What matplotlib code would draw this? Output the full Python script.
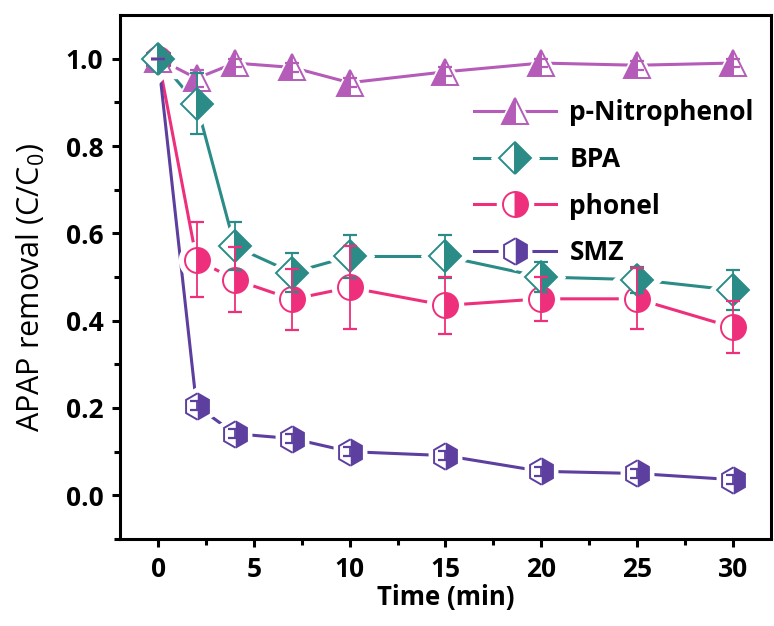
import numpy as np
import matplotlib.pyplot as plt
from matplotlib.legend_handler import HandlerTuple

plt.rcParams['font.family'] = ['Open Sans', 'DejaVu Sans']
plt.rcParams['mathtext.fontset'] = 'custom'
plt.rcParams['mathtext.rm'] = 'Open Sans'
plt.rcParams['mathtext.bf'] = 'Open Sans:bold'

# Data
time = [0, 2, 4, 7, 10, 15, 20, 25, 30]

nitro = [1.0, 0.955, 0.99, 0.98, 0.945, 0.97, 0.99, 0.985, 0.99]
nitro_err = [0.0, 0.02, 0.01, 0.01, 0.01, 0.01, 0.01, 0.01, 0.01]

bpa = [1.0, 0.897, 0.57, 0.51, 0.547, 0.547, 0.50, 0.494, 0.47]
bpa_err = [0.0, 0.07, 0.055, 0.045, 0.05, 0.05, 0.035, 0.03, 0.045]

phonel = [1.0, 0.54, 0.494, 0.449, 0.476, 0.435, 0.45, 0.45, 0.385]
phonel_err = [0.0, 0.085, 0.075, 0.07, 0.095, 0.065, 0.05, 0.07, 0.06]

smz = [1.0, 0.205, 0.141, 0.13, 0.10, 0.091, 0.055, 0.05, 0.036]
smz_err = [0.0, 0.01, 0.01, 0.01, 0.01, 0.01, 0.01, 0.01, 0.01]

labels = ["p-Nitrophenol", "BPA", "phonel", "SMZ"]
colors = ["#B45CB8", "#2A8B87", "#EE2F7B", "#5C3F9E"]
markers = ["^", "D", "o", "h"]
sizes = [19, 16, 18, 19]
fills = ["left", "right", "right", "right"]
# marker stacking order: BPA on top, like the original
mz = [4.3, 4.4, 4.2, 4.1]

fig = plt.figure(figsize=(7.74, 6.26), dpi=100)
ax = fig.add_axes([0.155, 0.139, 0.841, 0.837])

series = [(nitro, nitro_err), (bpa, bpa_err), (phonel, phonel_err), (smz, smz_err)]
handles = []
for i, (y, e) in enumerate(series):
    c = colors[i]
    ax.plot(time, y, color=c, lw=2.2, zorder=2)
    # white halo gives the gap between line and marker
    ax.plot(time, y, ls="none", marker=markers[i], ms=sizes[i] + 8,
            mfc="white", mec="white", zorder=3)
    ax.plot(time, y, ls="none", marker=markers[i], ms=sizes[i],
            fillstyle=fills[i], mfc=c, mfcalt="white", mec=c, mew=1.4,
            zorder=mz[i])
    ax.errorbar(time, y, yerr=e, fmt="none", ecolor=c, elinewidth=1.3,
                capsize=5, capthick=1.6, zorder=5)

    ln, = ax.plot([], [], color=c, lw=2.2)
    wh, = ax.plot([], [], ls="none", marker=markers[i], ms=sizes[i] + 8,
                  mfc="white", mec="white")
    mk, = ax.plot([], [], ls="none", marker=markers[i], ms=sizes[i],
                  fillstyle=fills[i], mfc=c, mfcalt="white", mec=c, mew=1.4)
    handles.append((ln, wh, mk))

ax.set_xlim(-2, 32)
ax.set_ylim(-0.1, 1.1)
ax.set_xticks([0, 5, 10, 15, 20, 25, 30])
ax.set_xticks(np.arange(2.5, 30, 5), minor=True)
ax.set_yticks([0.0, 0.2, 0.4, 0.6, 0.8, 1.0])
ax.set_yticks(np.arange(-0.1, 1.05, 0.2), minor=True)
ax.set_yticklabels(["0.0", "0.2", "0.4", "0.6", "0.8", "1.0"])

for s in ax.spines.values():
    s.set_linewidth(2.2)
ax.tick_params(which="major", direction="out", length=6, width=2.2,
               labelsize=19, pad=6)
ax.tick_params(which="minor", direction="out", length=4, width=2.2)
for t in ax.get_xticklabels() + ax.get_yticklabels():
    t.set_fontweight("bold")

ax.set_xlabel("Time (min)", fontsize=18.5, fontweight="bold", labelpad=1)
ax.set_ylabel("APAP removal (C/C$_0$)", fontsize=22)
ax.yaxis.set_label_coords(-0.112, 0.48)

leg = ax.legend(handles, labels, handler_map={tuple: HandlerTuple(ndivide=1)},
                loc="upper left", bbox_to_anchor=(0.508, 0.885), frameon=False,
                handlelength=3.1, handletextpad=0.5,
                labelspacing=0.75, prop={"weight": "bold", "size": 19})

fig.savefig("out.png", dpi=100)
